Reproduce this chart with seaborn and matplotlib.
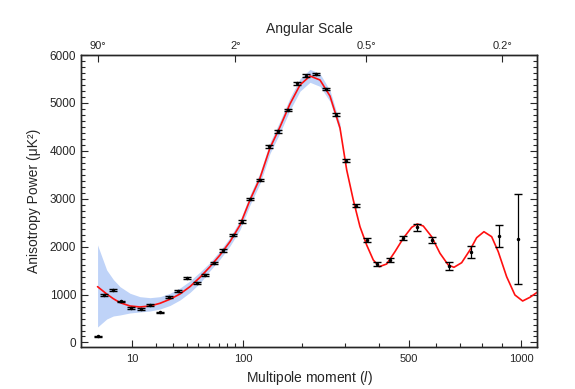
import numpy as np
import seaborn as sns
import matplotlib.pyplot as plt
from matplotlib.ticker import FixedLocator, NullFormatter, MultipleLocator

# binned data points
ell = [2, 3, 4.6, 6.5, 9.6, 13.2, 17.2, 22.3, 27.6, 33.6, 40.3, 48.4, 56.3, 65.1,
       75.5, 86.5, 98.2, 110, 124, 139, 155, 172, 190, 209, 230, 253, 277, 303,
       330, 362, 394, 434, 477, 527, 585, 654, 749, 884, 981]
power = [125, 991, 1096, 856, 726, 699, 776, 626, 950, 1075, 1352, 1248, 1413, 1665,
         1920, 2248, 2523, 2999, 3385, 4095, 4408, 4852, 5410, 5568, 5604, 5291, 4752, 3792,
         2853, 2139, 1638, 1722, 2175, 2400, 2133, 1590, 1882, 2223, 2160]
err = [20, 20, 20, 20, 20, 20, 20, 20, 20, 20, 20, 20, 20, 22, 22, 22, 24, 25, 25, 28,
       28, 30, 30, 30, 30, 30, 30, 30, 32, 35, 35, 38, 45, 67, 63, 83, 125, 230, 930]

# model curve
curve_l = [2, 3.41, 4.72, 6.31, 9.23, 12.8, 17.2, 22.3, 28.2, 35.0, 42.7, 51.4, 61.0,
           71.6, 83.2, 96.0, 109.7, 124.7, 140.7, 158.0, 176.5, 196.3, 217.3, 239.6,
           263.2, 288.2, 305.7, 323.5, 342.2, 361.5, 381.3, 399.7, 423.2, 450.5, 478.9,
           508.7, 529.1, 551.5, 583.8, 616.9, 651.1, 675.1, 708.5, 745.6, 776.4, 810.7,
           848.0, 880.6, 923.3, 966.7, 1008.1, 1048.2, 1089.4]
curve_p = [1165, 1012, 914, 831, 762, 741, 762, 818, 902, 1012, 1165, 1361, 1582,
           1826, 2104, 2452, 2974, 3433, 4059, 4498, 4978, 5374, 5562, 5478,
           5144, 4477, 3600, 2974, 2417, 2035, 1722, 1582, 1638, 1895, 2175,
           2404, 2473, 2431, 2208, 1862, 1617, 1569, 1665, 1930, 2187, 2312,
           2208, 1895, 1373, 991, 866, 943, 1048]

# cosmic variance band
band_l = [2, 3.41, 4.72, 6.31, 9.23, 12.8, 17.2, 22.3, 28.2, 35.0, 42.7, 51.4, 61.0,
          71.6, 83.2, 96.0, 109.7, 124.7, 140.7, 158.0, 176.5, 196.3, 217.3, 239.6,
          263.2, 288.2]
band_hi = [2035, 1513, 1315, 1165, 1027, 956, 935, 956, 1027, 1137, 1284, 1471, 1670,
           1915, 2195, 2550, 3080, 3545, 4175, 4620, 5105, 5505, 5700, 5610, 5260, 4570]
band_lo = [323, 490, 553, 574, 616, 637, 657, 699, 772, 887, 1044, 1242, 1500,
           1740, 2015, 2355, 2870, 3320, 3945, 4375, 4850, 5245, 5430, 5345, 5030, 4385]

top_pos = [2, 90, 360, 900]
top_labels = ['90°', '2°', '0.5°', '0.2°']

sns.set_style('ticks')
plt.rcParams['font.family'] = ['Liberation Sans', 'DejaVu Sans']
plt.rcParams['mathtext.fontset'] = 'custom'
plt.rcParams['mathtext.it'] = 'Liberation Sans:italic'
plt.rcParams['mathtext.rm'] = 'Liberation Sans'

fig = plt.figure(figsize=(5.75, 3.89), dpi=100)
ax = fig.add_axes([81 / 575, 1 - 346.7 / 389, 456 / 575, 291.7 / 389])


def fwd(x):
    return np.power(np.clip(x, 0, None), 0.4)


def inv(x):
    return np.power(np.clip(x, 0, None), 2.5)


ax.set_xscale('function', functions=(fwd, inv))

ax.fill_between(band_l, band_lo, band_hi, color='#bfd3f8', lw=0)
sns.lineplot(x=curve_l, y=curve_p, color='#ff1010', lw=1.2, ax=ax, sort=False)
ax.errorbar(ell, power, yerr=err, fmt='o', ms=1.5, color='black', ecolor='black',
            elinewidth=0.9, capsize=2.6, capthick=1.0)

ax.set_xlim(0.49, 1088)
ax.set_ylim(-88, 6000)

ax.xaxis.set_major_locator(FixedLocator([10, 100, 500, 1000]))
ax.xaxis.set_minor_locator(FixedLocator([20, 30, 40, 50, 60, 70, 80, 90,
                                         200, 300, 400, 600, 700, 800, 900]))
ax.xaxis.set_minor_formatter(NullFormatter())
ax.set_xticklabels(['10', '100', '500', '1000'])
ax.yaxis.set_major_locator(MultipleLocator(1000))
ax.yaxis.set_minor_locator(MultipleLocator(125))

ax.tick_params(which='both', direction='in', labelsize=8.5, width=0.8, right=True)
ax.tick_params(which='major', length=5)
ax.tick_params(which='minor', length=3)
ax.tick_params(axis='x', which='both', top=False, pad=5, labelsize=8)
for s in ax.spines.values():
    s.set_linewidth(1)
    s.set_visible(True)

# angular scale on top
top = ax.twiny()
top.set_xscale('function', functions=(fwd, inv))
top.set_xlim(ax.get_xlim())
top.xaxis.set_major_locator(FixedLocator(top_pos))
top.xaxis.set_minor_locator(FixedLocator([]))
top.set_xticklabels(top_labels)
top.tick_params(direction='in', length=5, width=0.8, labelsize=8, pad=3)
top.set_xlabel('Angular Scale', fontsize=10, labelpad=6)
for s in top.spines.values():
    s.set_linewidth(1)

ax.set_xlabel('Multipole moment ($\\mathit{l}$)', fontsize=10, labelpad=4)
ax.set_ylabel('Anisotropy Power (μK²)', fontsize=10, labelpad=6)

plt.savefig('out.png', dpi=100)
